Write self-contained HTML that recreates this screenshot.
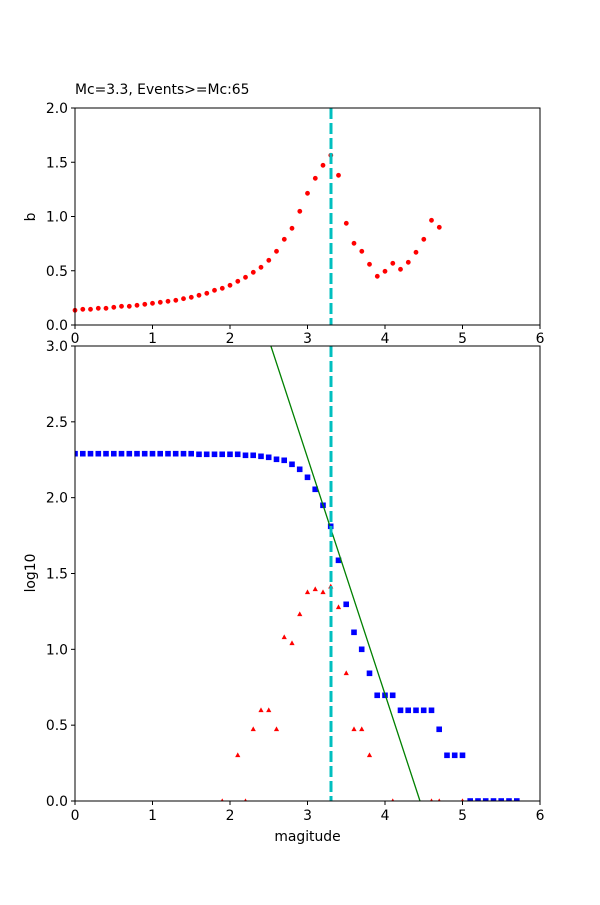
<!DOCTYPE html>
<html><head><meta charset="utf-8"><style>
html,body{margin:0;padding:0;background:#fff;}
svg text{font-family:"DejaVu Sans","Liberation Sans",sans-serif;font-size:13.9px;fill:#000;}
</style></head><body>
<svg id="s" width="600" height="900" xmlns="http://www.w3.org/2000/svg">
<rect width="600" height="900" fill="#fff"/>
<g id="g"></g>
<text x="75" y="94">Mc=3.3, Events&gt;=Mc:65</text>
<text x="307.5" y="841" text-anchor="middle">magitude</text>
<text transform="translate(35,217) rotate(-90)" text-anchor="middle">b</text>
<text transform="translate(35,573) rotate(-90)" text-anchor="middle">log10</text>
</svg>
<script>
var g=document.getElementById('g'),h='';
function X(m){return 75+m*77.5;}
var tb=[631,628,628,625,625,622,619,619,616,613,610,607,604,601,596,592,586,580,571,565,556,544,532,517,502,481,454,418,385,334,280,235,196,166,226,370,430,454,493,529,514,490,508,487,457,418,361,382];
for(var i=0;i<tb.length;i++){h+='<circle cx="'+X(i/10).toFixed(1)+'" cy="'+(100+tb[i]/3).toFixed(1)+'" r="2.4" fill="red"/>';}
h+='<line x1="331" y1="108" x2="331" y2="325" stroke="#00bfbf" stroke-width="3" stroke-dasharray="11,4"/>';
h+='<rect x="75" y="108" width="465" height="217" fill="none" stroke="#000" stroke-width="1"/>';
for(var k=0;k<=6;k++){var x=X(k);h+='<line x1="'+x+'" y1="325" x2="'+x+'" y2="329" stroke="#000"/><text x="'+x+'" y="343" text-anchor="middle">'+k+'</text>';}
for(var k=0;k<=4;k++){var y=325-k*0.5*108.5;h+='<line x1="71" y1="'+y+'" x2="75" y2="'+y+'" stroke="#000"/><text x="68" y="'+(y+5)+'" text-anchor="end">'+(k*0.5).toFixed(1)+'</text>';}
function Y(v){return 801-v*151.67;}
var bz={16:43,17:43,18:43,19:43,20:43,21:43,22:46,23:46,24:49,25:52,26:58,27:61,28:73,29:88,30:112,31:148,32:196,33:259,34:361,35:493,36:577,37:628,38:700,39:766,40:766,41:766,42:811,43:811,44:811,45:811,46:811,47:868,48:946,49:946,50:946};
h+='<clipPath id="c"><rect x="75" y="346" width="465" height="455"/></clipPath><g clip-path="url(#c)">';
for(var i=0;i<=57;i++){var y=i<16?453.7:(i>50?801:440+bz[i]/3);h+='<rect x="'+(X(i/10)-2.8).toFixed(1)+'" y="'+(y-2.8).toFixed(1)+'" width="5.6" height="5.6" fill="#0000ff"/>';}
var tr=[[19,1084],[21,946],[22,1084],[23,868],[24,811],[25,811],[26,868],[27,592],[28,610],[29,523],[30,457],[31,448],[32,457],[33,440],[34,502],[35,700],[36,868],[37,868],[38,946],[41,1084],[46,1084],[47,1084],[50,1084]];
tr.forEach(function(p){var x=X(p[0]/10),y=440+p[1]/3;h+='<polygon points="'+x+','+(y-3)+' '+(x-2.6)+','+(y+1.8)+' '+(x+2.6)+','+(y+1.8)+'" fill="red"/>';});
h+='<line x1="270.9" y1="346" x2="420" y2="801" stroke="#008000" stroke-width="1.3"/>';
h+='<line x1="331" y1="346" x2="331" y2="801" stroke="#00bfbf" stroke-width="3" stroke-dasharray="11,4"/></g>';
h+='<rect x="75" y="346" width="465" height="455" fill="none" stroke="#000" stroke-width="1"/>';
for(var k=0;k<=6;k++){var x=X(k);h+='<line x1="'+x+'" y1="801" x2="'+x+'" y2="805" stroke="#000"/><text x="'+x+'" y="820" text-anchor="middle">'+k+'</text>';}
for(var k=0;k<=6;k++){var y=Y(k*0.5);h+='<line x1="71" y1="'+y+'" x2="75" y2="'+y+'" stroke="#000"/><text x="68" y="'+(y+5)+'" text-anchor="end">'+(k*0.5).toFixed(1)+'</text>';}
g.innerHTML=h;
</script>
</body></html>
